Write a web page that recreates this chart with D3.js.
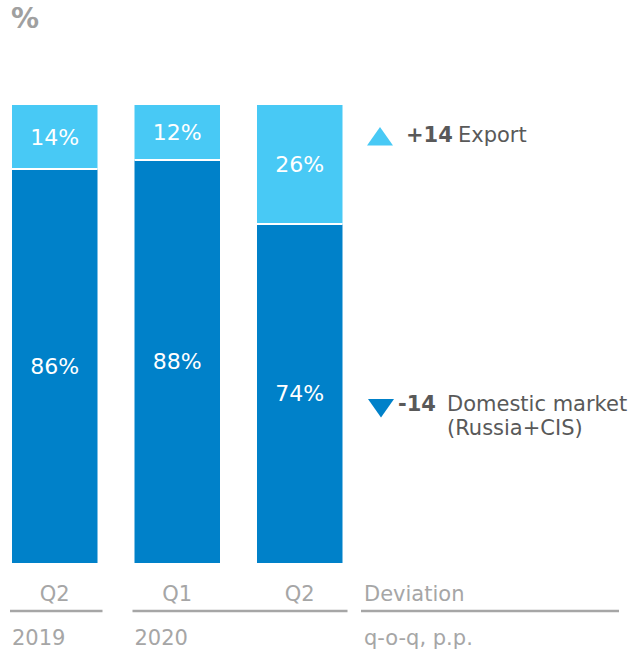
<!DOCTYPE html>
<html>
<head>
<meta charset="utf-8">
<script src="https://cdn.jsdelivr.net/npm/d3@7"></script>
<style>
  html, body { margin: 0; padding: 0; background: #fff; }
  svg { display: block; font-family: "DejaVu Sans", Verdana, sans-serif; }
</style>
</head>
<body>
<svg id="chart" width="634" height="650"></svg>
<script>
// Sales structure by market, share of volume (%)
const periods  = ["Q2 2019", "Q1 2020", "Q2 2020"];
const quarters = ["Q2", "Q1", "Q2"];
const years    = ["2019", "2020"];
const yearOf   = ["2019", "2020", "2020"];
const domestic = [86, 88, 74];
const exportSh = [14, 12, 26];

const deviationValues = ["+14", "-14"];
const deviationNames  = [["Export"], ["Domestic market", "(Russia+CIS)"]];
const deviationSeries = ["export", "domestic"];

const colors = { domestic: "#0081c9", export: "#48c9f5" };
const grey = "#a6a6a6";
const dark = "#595959";

const svg = d3.select("#chart");

const x = d3.scaleBand()
  .domain(periods)
  .range([12, 342.5])
  .paddingInner(0.302)
  .paddingOuter(0);

const y = d3.scaleLinear().domain([0, 100]).range([563, 105]);

// Unit heading
svg.append("text")
  .attr("x", 11).attr("y", 28)
  .attr("fill", "#a0a0a0")
  .attr("font-size", 28).attr("font-weight", "bold")
  .text("%");

// Stacked bars
const rows = periods.map((p, i) => ({ p, dom: domestic[i], exp: exportSh[i] }));
const g = svg.append("g");

g.selectAll("rect.dom").data(rows).join("rect")
  .attr("class", "dom")
  .attr("x", d => x(d.p)).attr("width", x.bandwidth())
  .attr("y", d => y(d.dom)).attr("height", d => y(0) - y(d.dom))
  .attr("fill", colors.domestic);

g.selectAll("rect.exp").data(rows).join("rect")
  .attr("class", "exp")
  .attr("x", d => x(d.p)).attr("width", x.bandwidth())
  .attr("y", d => y(d.dom + d.exp)).attr("height", d => y(d.dom) - y(d.dom + d.exp))
  .attr("fill", colors.export);

// White divider between segments
g.selectAll("line.sep").data(rows).join("line")
  .attr("x1", d => x(d.p)).attr("x2", d => x(d.p) + x.bandwidth())
  .attr("y1", d => y(d.dom)).attr("y2", d => y(d.dom))
  .attr("stroke", "#fff").attr("stroke-width", 2);

// Segment labels
const lblSize = 22;
g.selectAll("text.dl").data(rows).join("text")
  .attr("x", d => x(d.p) + x.bandwidth() / 2)
  .attr("y", d => (y(0) + y(d.dom)) / 2)
  .attr("dy", "0.36em")
  .attr("text-anchor", "middle")
  .attr("fill", "#fff").attr("font-size", lblSize)
  .text(d => d.dom + "%");

g.selectAll("text.el").data(rows).join("text")
  .attr("x", d => x(d.p) + x.bandwidth() / 2)
  .attr("y", d => (y(d.dom) + y(d.dom + d.exp)) / 2)
  .attr("dy", "0.36em")
  .attr("text-anchor", "middle")
  .attr("fill", "#fff").attr("font-size", lblSize)
  .text(d => d.exp + "%");

// Category axis: quarters, separator rules, years
const axisSize = 21;
const axisG = svg.append("g");
axisG.selectAll("text.q").data(periods).join("text")
  .attr("x", d => x(d) + x.bandwidth() / 2)
  .attr("y", 601)
  .attr("text-anchor", "middle")
  .attr("fill", grey).attr("font-size", axisSize)
  .text((d, i) => quarters[i]);

const groups = years.map(yr => {
  const ps = periods.filter((p, i) => yearOf[i] === yr);
  return { yr, x0: x(ps[0]), x1: x(ps[ps.length - 1]) + x.bandwidth() };
});

axisG.selectAll("line.yr").data(groups).join("line")
  .attr("x1", d => d.x0 - 2).attr("x2", d => d.x1 + 5)
  .attr("y1", 611).attr("y2", 611)
  .attr("stroke", grey).attr("stroke-width", 2.4);

axisG.selectAll("text.yr").data(groups).join("text")
  .attr("x", d => d.x0)
  .attr("y", 645)
  .attr("fill", grey).attr("font-size", axisSize)
  .text(d => d.yr);

// Deviation column
const devX = 361;
axisG.append("line")
  .attr("x1", devX).attr("x2", 619).attr("y1", 611).attr("y2", 611)
  .attr("stroke", grey).attr("stroke-width", 2.4);
axisG.append("text").attr("x", devX + 3).attr("y", 601)
  .attr("fill", grey).attr("font-size", axisSize).text("Deviation");
axisG.append("text").attr("x", devX + 3).attr("y", 645)
  .attr("fill", grey).attr("font-size", axisSize).text("q-o-q, p.p.");

// Deviation entries: triangle marker, bold change, series name
const entryLayout = {
  export:   { base: 142, valueX: 406, nameX: 458 },
  domestic: { base: 411, valueX: 398, nameX: 447 }
};

deviationSeries.forEach((s, i) => {
  const L = entryLayout[s];
  const up = deviationValues[i].startsWith("+");
  const top = up ? L.base - 15 : L.base - 12;
  const bot = top + 18.5;
  const pts = up
    ? [[367, bot], [380, top], [393, bot]]
    : [[368, top], [394, top], [381, bot]];
  svg.append("path")
    .attr("d", d3.line()(pts) + "Z")
    .attr("fill", colors[s]);

  const t = svg.append("text")
    .attr("font-size", 21)
    .attr("fill", dark);
  t.append("tspan")
    .attr("x", L.valueX).attr("y", L.base)
    .attr("font-weight", "bold")
    .text(deviationValues[i]);
  deviationNames[i].forEach((line, j) => {
    t.append("tspan")
      .attr("x", L.nameX)
      .attr("y", L.base + j * 24)
      .text(line);
  });
});
</script>
</body>
</html>
